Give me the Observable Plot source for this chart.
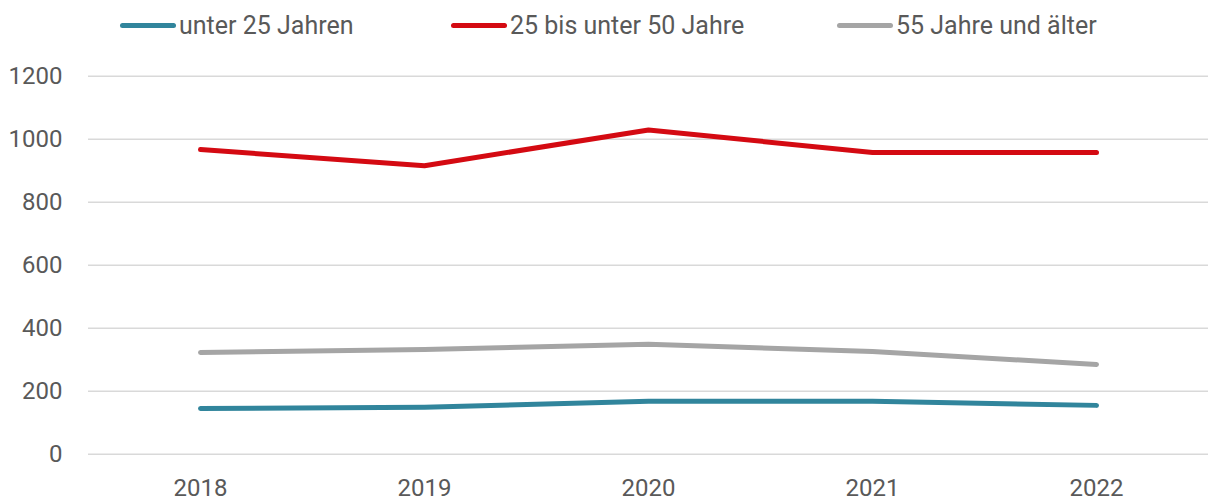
<!DOCTYPE html>
<html>
<head>
<meta charset="utf-8">
<script src="https://cdn.jsdelivr.net/npm/d3@7"></script>
<script src="https://cdn.jsdelivr.net/npm/@observablehq/plot@0.6"></script>
<style>
  html, body { margin: 0; padding: 0; background: #fff; }
  #wrap { position: relative; width: 1208px; height: 503px; font-family: Roboto, sans-serif; color: #595959; }
  #legend { position: relative; height: 50px; }
  .item { position: absolute; top: 0; height: 50px; display: flex; align-items: center; font-size: 25px; }
  .sw { width: 56px; height: 5px; border-radius: 3px; margin-right: 3px; }
  #chart svg { display: block; }
</style>
</head>
<body>
<div id="wrap">
  <div id="legend"></div>
  <div id="chart"></div>
</div>
<script>
const years = ["2018", "2019", "2020", "2021", "2022"];
const seriesNames = ["unter 25 Jahren", "25 bis unter 50 Jahre", "55 Jahre und älter"];
const under25 = [145, 149, 168, 168, 155];
const age25to50 = [967, 916, 1029, 958, 958];
const age55plus = [323, 332, 349, 326, 285];
const colors = ["#31859C", "#D40A12", "#A5A5A5"];
const yTicks = [0, 200, 400, 600, 800, 1000, 1200];

const seriesValues = [under25, age25to50, age55plus];
const data = seriesValues.flatMap((vals, i) => vals.map((v, j) => ({year: years[j], value: v, series: seriesNames[i]})));

// Legend
const legendLefts = [120, 451, 837];
const legend = document.getElementById("legend");
seriesNames.forEach((name, i) => {
  const item = document.createElement("div");
  item.className = "item";
  item.style.left = legendLefts[i] + "px";
  const sw = document.createElement("div");
  sw.className = "sw";
  sw.style.background = colors[i];
  const t = document.createElement("span");
  t.textContent = name;
  item.appendChild(sw);
  item.appendChild(t);
  legend.appendChild(item);
});

const chart = Plot.plot({
  width: 1208,
  height: 453,
  marginLeft: 88,
  marginRight: 0,
  marginTop: 25.7,
  marginBottom: 49.3,
  style: {fontFamily: "Roboto, sans-serif", fontSize: "24px", color: "#595959", background: "white"},
  x: {type: "point", domain: years, padding: 0.5, label: null},
  y: {domain: [0, 1200], label: null},
  color: {domain: seriesNames, range: colors},
  marks: [
    Plot.ruleY(yTicks, {stroke: "#d9d9d9", strokeWidth: 1.5}),
    Plot.axisY({ticks: yTicks, tickFormat: d => String(d), tickSize: 0, tickPadding: 26, label: null, fontSize: 24}),
    Plot.axisX({tickSize: 0, tickPadding: 25, label: null, fontSize: 24}),
    Plot.line(data, {x: "year", y: "value", z: "series", stroke: "series", strokeWidth: 5, strokeLinecap: "round", strokeLinejoin: "round"})
  ]
});
document.getElementById("chart").appendChild(chart);
</script>
</body>
</html>
